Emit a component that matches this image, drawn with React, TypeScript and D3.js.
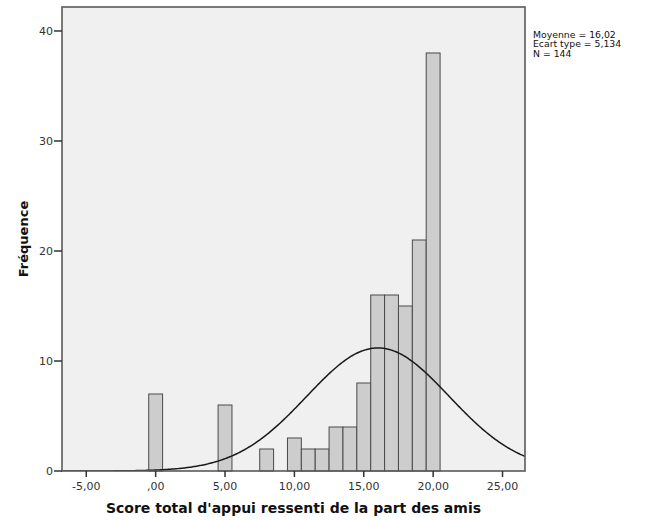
import React from "react";
import * as d3 from "d3";

// Histogram bins (width 1, centred on each integer score) and their counts
const binCenters = [0, 5, 8, 10, 11, 12, 13, 14, 15, 16, 17, 18, 19, 20];
const binCounts = [7, 6, 2, 3, 2, 2, 4, 4, 8, 16, 16, 15, 21, 38];
const binWidth = 1;

// Summary statistics shown beside the plot and used for the normal curve
const mean = 16.02;
const stdDev = 5.134;
const n = 144;
const statLines = ["Moyenne = 16,02", "Ecart type = 5,134", "N = 144"];

const xTicks = [-5, 0, 5, 10, 15, 20, 25];
const yTicks = [0, 10, 20, 30, 40];

const W = 657;
const H = 520;
const plot = { left: 62, top: 7, right: 525, bottom: 471 };

const fmtX = (v: number) => {
  const s = v.toFixed(2).replace(".", ",");
  return s.replace(/^0,/, ",").replace(/^-0,/, "-,");
};

const font = "'DejaVu Sans', Verdana, sans-serif";

export default function App() {
  const x = d3.scaleLinear().domain([-6.75, 26.62]).range([plot.left, plot.right]);
  const y = d3.scaleLinear().domain([0, 42.18]).range([plot.bottom, plot.top]);

  const bars = binCenters.map((c, i) => ({ c, v: binCounts[i] }));

  const pdfScale = (n * binWidth) / (stdDev * Math.sqrt(2 * Math.PI));
  const [d0, d1] = x.domain();
  const curvePts = d3.range(0, 401).map((i) => {
    const v = d0 + ((d1 - d0) * i) / 400;
    const z = (v - mean) / stdDev;
    return [v, pdfScale * Math.exp(-0.5 * z * z)] as [number, number];
  });
  const curve = d3
    .line<[number, number]>()
    .x((d) => x(d[0]))
    .y((d) => y(d[1]))
    .curve(d3.curveBasis)(curvePts);

  return (
    <svg
      width={W}
      height={H}
      style={{ position: "absolute", left: 0, top: 0, background: "#ffffff" }}
    >
      {/* plot background */}
      <rect
        x={plot.left}
        y={plot.top}
        width={plot.right - plot.left}
        height={plot.bottom - plot.top}
        fill="#f0f0f0"
      />
      <defs>
        <clipPath id="plotClip">
          <rect
            x={plot.left}
            y={plot.top}
            width={plot.right - plot.left}
            height={plot.bottom - plot.top}
          />
        </clipPath>
      </defs>

      {/* bars */}
      {bars.map((b) => (
        <rect
          key={b.c}
          x={x(b.c - binWidth / 2)}
          y={y(b.v)}
          width={x(b.c + binWidth / 2) - x(b.c - binWidth / 2)}
          height={y(0) - y(b.v)}
          fill="#cdcdcd"
          stroke="#4a4a4a"
          strokeWidth={1}
        />
      ))}

      {/* normal curve */}
      <path
        d={curve ?? ""}
        fill="none"
        stroke="#1a1a1a"
        strokeWidth={1.5}
        clipPath="url(#plotClip)"
      />

      {/* frame */}
      <rect
        x={plot.left}
        y={plot.top}
        width={plot.right - plot.left}
        height={plot.bottom - plot.top}
        fill="none"
        stroke="#5a5a5a"
        strokeWidth={1.6}
      />

      {/* x axis ticks */}
      {xTicks.map((t) => (
        <g key={`x${t}`}>
          <line x1={x(t)} x2={x(t)} y1={plot.bottom} y2={plot.bottom + 6} stroke="#333" strokeWidth={1.5} />
          <text
            x={x(t)}
            y={plot.bottom + 19}
            textAnchor="middle"
            fontFamily={font}
            fontSize={11}
            fill="#333"
          >
            {fmtX(t)}
          </text>
        </g>
      ))}

      {/* y axis ticks */}
      {yTicks.map((t) => (
        <g key={`y${t}`}>
          <line x1={plot.left - 8} x2={plot.left} y1={y(t)} y2={y(t)} stroke="#333" strokeWidth={1.5} />
          <text
            x={plot.left - 9}
            y={y(t) + 4}
            textAnchor="end"
            fontFamily={font}
            fontSize={11}
            fill="#333"
          >
            {t}
          </text>
        </g>
      ))}

      {/* axis titles */}
      <text
        x={(plot.left + plot.right) / 2}
        y={513}
        textAnchor="middle"
        fontFamily={font}
        fontWeight="bold"
        fontSize={14}
        fill="#111"
      >
        Score total d'appui ressenti de la part des amis
      </text>
      <text
        transform={`translate(28, ${(plot.top + plot.bottom) / 2}) rotate(-90)`}
        textAnchor="middle"
        fontFamily={font}
        fontWeight="bold"
        fontSize={13}
        fill="#111"
      >
        Fréquence
      </text>

      {/* summary statistics */}
      {statLines.map((s, i) => (
        <text key={s} x={533} y={37.5 + i * 9.5} fontFamily={font} fontSize={9.3} fill="#111">
          {s}
        </text>
      ))}
    </svg>
  );
}
